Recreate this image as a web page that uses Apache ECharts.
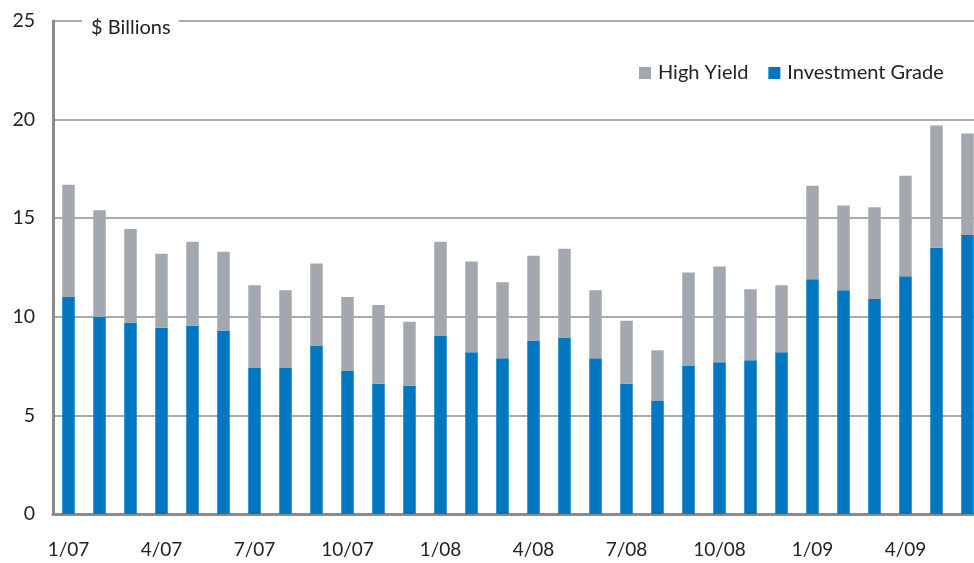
<!DOCTYPE html>
<html>
<head>
<meta charset="utf-8">
<script src="https://cdn.jsdelivr.net/npm/echarts@6/dist/echarts.min.js"></script>
<style>
  html, body { margin: 0; padding: 0; background: #fff; }
  #chart { width: 974px; height: 563px; }
</style>
</head>
<body>
<div id="chart"></div>
<script>
// Monthly issuance, Jan 2007 – Jun 2009 ($ billions)
const months = [
  '1/07','2/07','3/07','4/07','5/07','6/07','7/07','8/07','9/07','10/07','11/07','12/07',
  '1/08','2/08','3/08','4/08','5/08','6/08','7/08','8/08','9/08','10/08','11/08','12/08',
  '1/09','2/09','3/09','4/09','5/09','6/09'
];
const investmentGrade = [
  11.0, 10.0, 9.7, 9.45, 9.55, 9.3, 7.4, 7.4, 8.55, 7.25, 6.6, 6.5,
  9.05, 8.2, 7.9, 8.8, 8.95, 7.9, 6.6, 5.75, 7.5, 7.7, 7.8, 8.2,
  11.9, 11.35, 10.9, 12.05, 13.5, 14.15
];
const highYield = [
  5.7, 5.4, 4.75, 3.75, 4.25, 4.0, 4.2, 3.95, 4.15, 3.75, 4.0, 3.25,
  4.75, 4.6, 3.85, 4.3, 4.5, 3.45, 3.2, 2.55, 4.75, 4.85, 3.6, 3.4,
  4.75, 4.3, 4.65, 5.1, 6.2, 5.15
];
const yTicks = { min: 0, max: 25, step: 5 };

const FONT = 'Lato, "Open Sans", sans-serif';
const chart = echarts.init(document.getElementById('chart'));

chart.setOption({
  animation: false,
  backgroundColor: '#ffffff',
  textStyle: { fontFamily: FONT },
  title: {
    text: '$ Billions',
    left: 82,
    top: 16,
    padding: [2, 8, 2, 9],
    backgroundColor: '#ffffff',
    textStyle: { fontFamily: FONT, fontSize: 20, fontWeight: 'normal', color: '#222' }
  },
  legend: {
    data: ['High Yield', 'Investment Grade'],
    left: 639,
    top: 63,
    padding: 0,
    icon: 'rect',
    itemWidth: 12,
    itemHeight: 12,
    itemGap: 20,
    textStyle: { fontFamily: FONT, fontSize: 20, color: '#222', padding: [0, 0, 0, 2] }
  },
  grid: {
    left: 53,
    top: 21,
    width: 930,
    height: 493,
    outerBoundsMode: 'none',
    containLabel: false,
    show: true,
    borderColor: '#9a9a9a',
    borderWidth: 2,
    backgroundColor: 'transparent'
  },
  xAxis: {
    type: 'category',
    data: months,
    axisLine: { lineStyle: { color: '#8c8c8c', width: 3 } },
    axisTick: { show: false },
    axisLabel: {
      interval: 2,
      margin: 26,
      fontSize: 19,
      color: '#222',
      fontFamily: FONT
    }
  },
  yAxis: {
    type: 'value',
    min: yTicks.min,
    max: yTicks.max,
    interval: yTicks.step,
    axisLine: { show: true, lineStyle: { color: '#8c8c8c', width: 3 } },
    axisTick: { show: false },
    splitLine: { lineStyle: { color: '#ababab', width: 2 } },
    axisLabel: { margin: 18, fontSize: 19.5, color: '#222', fontFamily: FONT }
  },
  series: [
    {
      name: 'Investment Grade',
      type: 'bar',
      stack: 'total',
      barWidth: 12.5,
      itemStyle: { color: '#0077c0' },
      data: investmentGrade
    },
    {
      name: 'High Yield',
      type: 'bar',
      stack: 'total',
      barWidth: 12.5,
      itemStyle: { color: '#a2a8ad' },
      data: highYield
    }
  ]
});
</script>
</body>
</html>
